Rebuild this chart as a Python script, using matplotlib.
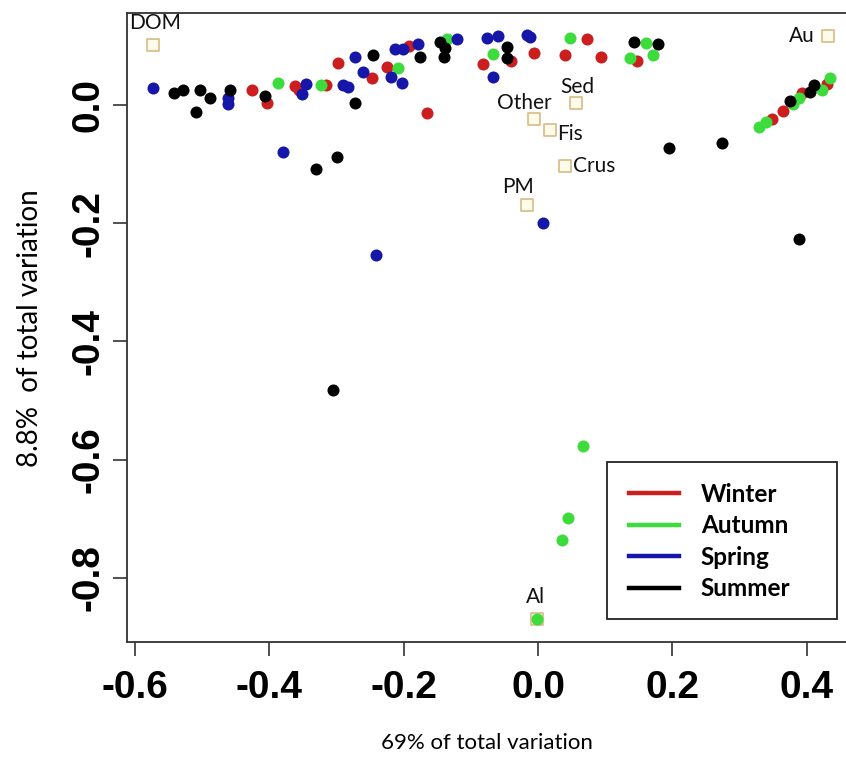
import matplotlib
matplotlib.use("Agg")
import matplotlib.pyplot as plt
from matplotlib.lines import Line2D
from matplotlib.patches import Rectangle

# ---------------- data ----------------
winter_x = [-0.426, -0.403, -0.362, -0.356, -0.315, -0.298, -0.247, -0.225, -0.192, -0.165,
            -0.082, -0.040, -0.006, 0.040, 0.073, 0.094, 0.147, 0.348, 0.365, 0.393, 0.430]
winter_y = [0.025, 0.003, 0.032, 0.025, 0.034, 0.071, 0.046, 0.064, 0.100, -0.014,
            0.069, 0.074, 0.088, 0.085, 0.112, 0.081, 0.074, -0.024, -0.010, 0.020, 0.036]

autumn_x = [-0.387, -0.323, -0.208, -0.135, -0.067, 0.048, 0.137, 0.161, 0.171,
            0.329, 0.339, 0.379, 0.388, 0.423, 0.435, 0.067, 0.045, 0.036, -0.001]
autumn_y = [0.037, 0.034, 0.063, 0.112, 0.086, 0.113, 0.080, 0.105, 0.085,
            -0.037, -0.029, 0.002, 0.012, 0.025, 0.046, -0.577, -0.699, -0.736, -0.870]

spring_x = [-0.573, -0.461, -0.461, -0.345, -0.351, -0.290, -0.283, -0.272, -0.260, -0.219,
            -0.202, -0.213, -0.201, -0.179, -0.121, -0.076, -0.060, -0.016, -0.012, -0.067,
            -0.379, -0.241, 0.007]
spring_y = [0.029, 0.012, 0.002, 0.036, 0.019, 0.034, 0.030, 0.081, 0.056, 0.047,
            0.037, 0.095, 0.095, 0.103, 0.112, 0.113, 0.117, 0.118, 0.115, 0.047,
            -0.080, -0.254, -0.200]

summer_x = [-0.542, -0.528, -0.503, -0.510, -0.488, -0.458, -0.406, -0.272, -0.246, -0.176,
            -0.146, -0.138, -0.140, -0.046, -0.046, 0.143, 0.179, 0.195, 0.274, 0.388,
            0.375, 0.405, 0.411, -0.330, -0.299, -0.305]
summer_y = [0.020, 0.025, 0.025, -0.012, 0.012, 0.025, 0.015, 0.003, 0.085, 0.081,
            0.107, 0.096, 0.081, 0.098, 0.080, 0.107, 0.103, -0.073, -0.064, -0.227,
            0.007, 0.022, 0.034, -0.108, -0.088, -0.482]

source_names = ["DOM", "Au", "Sed", "Other", "Fis", "Crus", "PM", "Al"]
source_x = [-0.573, 0.432, 0.057, -0.006, 0.018, 0.040, -0.016, -0.001]
source_y = [0.102, 0.117, 0.003, -0.024, -0.042, -0.103, -0.169, -0.870]

season_names = ["Winter", "Autumn", "Spring", "Summer"]

xticks = [-0.6, -0.4, -0.2, 0.0, 0.2, 0.4]
yticks = [0.0, -0.2, -0.4, -0.6, -0.8]

# ---------------- style ----------------
c_red = "#cc1e1e"
c_green = "#3ddc3d"
c_blue = "#1616a8"
c_black = "#000000"
colors = [c_red, c_green, c_blue, c_black]

W, H = 846, 767
fig = plt.figure(figsize=(W / 100, H / 100), dpi=100)
ax = fig.add_axes([127 / W, 1 - 642 / H, (855 - 127) / W, (642 - 13) / H])
ax.set_xlim(-0.612, 0.472)
ax.set_ylim(-0.909, 0.156)

# source squares
ax.scatter(source_x, source_y, marker="s", s=70, facecolors="#fffbea",
           edgecolors="#d4bc86", linewidths=1.2, zorder=2)

series = [(winter_x, winter_y), (autumn_x, autumn_y), (spring_x, spring_y), (summer_x, summer_y)]
for (xs, ys), col in zip(series, colors):
    ax.scatter(xs, ys, s=75, color=col, linewidths=0, zorder=3)

# source labels (offsets in points)
offsets = {
    "DOM": (1, 16, "center"),
    "Au": (-19, 0, "center"),
    "Sed": (1, 12, "center"),
    "Other": (-7, 12, "center"),
    "Fis": (5, -3, "left"),
    "Crus": (6, 0, "left"),
    "PM": (-7, 13, "center"),
    "Al": (-1, 16, "center"),
}
for name, sx, sy in zip(source_names, source_x, source_y):
    dx, dy, ha = offsets[name]
    ax.annotate(name, (sx, sy), xytext=(dx, dy), textcoords="offset points",
                ha=ha, va="center", fontsize=15, family="Lato", color="#111111", zorder=4)

# axes styling
for sp in ax.spines.values():
    sp.set_linewidth(1.3)
    sp.set_color("#333333")
ax.set_xticks(xticks)
ax.set_yticks(yticks)
ax.set_xticklabels([f"{v:.1f}" for v in xticks])
ax.set_yticklabels([f"{v:.1f}" for v in yticks], rotation=90, va="center")
ax.tick_params(axis="both", direction="out", length=10, width=1.2, color="#333333",
               labelsize=28)
ax.tick_params(axis="x", pad=10)
ax.tick_params(axis="y", pad=5)
for lab in ax.get_xticklabels() + ax.get_yticklabels():
    lab.set_family("Liberation Sans")
    lab.set_fontweight("bold")

ax.set_xlabel("69% of total variation", fontsize=16, family="Lato")
ax.xaxis.set_label_coords((487 - 127) / (855 - 127), (642 - 733) / (642 - 13))
ax.set_ylabel("8.8%  of total variation", fontsize=20, family="Lato")
ax.yaxis.set_label_coords((43 - 127) / (855 - 127), (642 - 328) / (642 - 13))

# legend frame (figure pixels) and legend entries
frame = Rectangle((607 / W, 1 - 619 / H), (837 - 607) / W, (619 - 462) / H,
                  transform=fig.transFigure, facecolor="white", edgecolor="#222222",
                  linewidth=1.3, zorder=9)
fig.patches.append(frame)
handles = [Line2D([], [], color=c, lw=3.2) for c in colors]
leg = fig.legend(handles, season_names, loc="upper left",
                 bbox_to_anchor=(629 / W, 1 - 483 / H),
                 frameon=False,
                 prop={"family": "Lato", "weight": "bold", "size": 17.5},
                 handlelength=2.05, handletextpad=0.9, labelspacing=0.345,
                 borderpad=0, borderaxespad=0)
leg.set_zorder(10)

fig.savefig("out.png", dpi=100, facecolor="white")
